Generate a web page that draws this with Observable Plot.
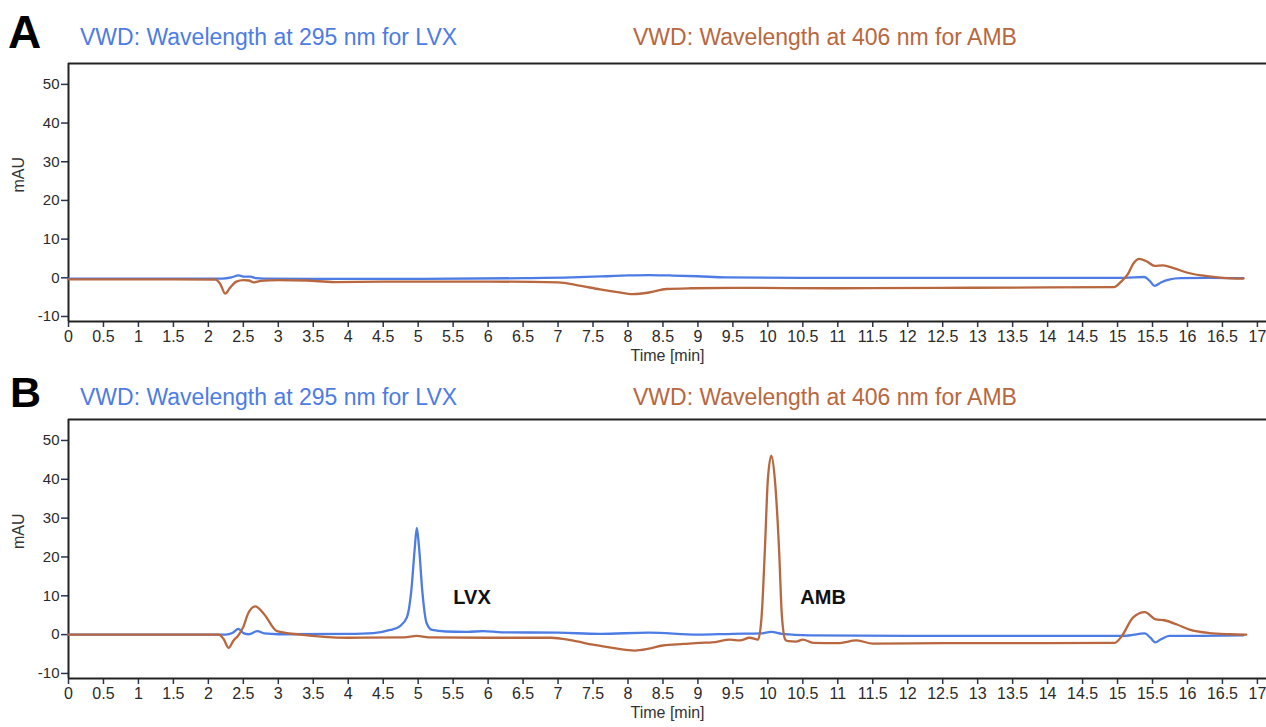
<!DOCTYPE html>
<html><head><meta charset="utf-8">
<script src="https://cdn.jsdelivr.net/npm/d3@7"></script>
<script src="https://cdn.jsdelivr.net/npm/@observablehq/plot@0.6"></script>
<style>
body{margin:0;background:#fff;font-family:"Liberation Sans",Arial,sans-serif;}
#wrap{position:relative;width:1266px;height:727px;overflow:hidden;background:#fff}
.panel{position:absolute;left:0;width:1266px}
.letter{position:absolute;font-weight:bold;color:#000;line-height:1;font-family:"Liberation Sans",Arial,sans-serif}
.ttl{position:absolute;font-size:23px;line-height:1;white-space:nowrap;font-family:"Liberation Sans",Arial,sans-serif}
</style></head><body><div id="wrap"></div>
<script>
// ---- data (time in min, absorbance in mAU) ----
const seriesNames = ["VWD: Wavelength at 295 nm for LVX", "VWD: Wavelength at 406 nm for AMB"];
const panelLetters = ["A", "B"];
const yTicks = [-10, 0, 10, 20, 30, 40, 50];
const xTicks = d3.range(0, 17.001, 0.5);

const A_LVX_t = [0,1.5,2.2,2.33,2.43,2.52,2.6,2.68,2.8,3.5,4.7,6.5,7.2,7.7,8.0,8.3,8.6,9.0,9.4,10.5,12.5,14.5,15.1,15.38,15.46,15.53,15.62,15.75,15.9,16.3,16.8];
const A_LVX_v = [-0.2,-0.2,-0.2,0.1,0.6,0.3,0.3,-0.1,-0.2,-0.3,-0.3,-0.1,0.1,0.4,0.6,0.7,0.6,0.4,0.1,0.0,0,0,0,0.2,-0.8,-2.1,-1.2,-0.4,-0.1,0,-0.1];

const A_AMB_t = [0,1.5,2.1,2.17,2.24,2.31,2.4,2.5,2.58,2.65,2.75,3.0,3.4,3.8,4.5,6.0,7.0,7.3,7.6,7.85,8.07,8.3,8.55,8.9,9.5,11,12.5,14,14.95,15.05,15.15,15.22,15.31,15.42,15.53,15.65,15.8,16.0,16.2,16.5,16.8];
const A_AMB_v = [-0.4,-0.4,-0.5,-1.6,-4.1,-2.6,-1.0,-0.6,-0.7,-1.2,-0.8,-0.6,-0.7,-1.1,-1.0,-1.0,-1.2,-2.0,-3.0,-3.7,-4.2,-3.8,-2.9,-2.7,-2.6,-2.7,-2.6,-2.5,-2.4,-1.0,1.0,3.5,4.9,4.2,3.1,3.2,2.5,1.3,0.6,0.0,-0.2];

const B_LVX_t = [0,1.5,2.25,2.35,2.43,2.5,2.58,2.7,2.8,3.0,4.0,4.36,4.6,4.74,4.84,4.9,4.95,4.98,5.01,5.06,5.12,5.2,5.4,5.7,5.93,6.2,7.0,7.6,8.3,9.0,9.5,9.9,10.05,10.2,10.6,12,14,15.1,15.39,15.47,15.54,15.62,15.74,16.2,16.8];
const B_LVX_v = [0,0,0,0.5,1.5,0.4,0.1,0.9,0.3,0.1,0.2,0.4,1.2,2.2,4.5,11,22,27.5,23,11,3,1.2,0.8,0.7,0.9,0.6,0.5,0.2,0.5,0,0.2,0.3,0.7,0.2,-0.2,-0.3,-0.3,-0.3,0.3,-0.8,-2.0,-1.2,-0.3,-0.3,-0.2];

const B_AMB_t = [0,1.5,2.15,2.22,2.29,2.36,2.42,2.5,2.57,2.67,2.8,2.98,3.31,4.0,4.8,4.98,5.15,6.0,6.9,7.2,7.5,7.8,8.1,8.3,8.5,8.8,9.03,9.2,9.46,9.6,9.74,9.86,9.91,9.96,10.0,10.05,10.1,10.16,10.2,10.25,10.29,10.4,10.5,10.65,11.0,11.27,11.5,12.5,14.0,14.96,15.06,15.22,15.39,15.55,15.67,15.85,16.03,16.31,16.6,16.84];
const B_AMB_v = [0,0,0,-1.2,-3.4,-1.5,-0.4,2.0,5.5,7.3,5.2,0.9,0,-0.8,-0.7,-0.3,-0.7,-0.8,-0.8,-1.5,-2.6,-3.5,-4.1,-3.6,-2.8,-2.4,-2.1,-2.0,-1.3,-1.5,-0.8,-1.3,4.5,23,40,46.1,40,22,5,-1.3,-1.7,-1.8,-1.3,-2.1,-2.2,-1.5,-2.3,-2.2,-2.2,-2.1,-0.4,4.4,5.8,3.9,3.7,2.6,1.3,0.4,0.1,0];

// peak annotations in panel B (data units)
const peakNames = ["LVX", "AMB"];
const peakLabelT = [5.77, 10.79];
const peakLabelV = [9.5, 9.5];

// ---- styling ----
const BLUE = "#4d7ce4";
const BROWN = "#b8673f";
const FONT = "Liberation Sans, Arial, sans-serif";
const X_DOMAIN = [0, 17.13];
const Y_DOMAIN = [-11.3, 55.4];

const zip = (t, v) => t.map((d, i) => ({t: d, v: v[i]}));

function makePanel(lvx, amb, labels, height, marginTop, marginBottom) {
  const marks = [
    Plot.ruleY([Y_DOMAIN[1]], {stroke: "#222", strokeWidth: 2}),
    Plot.ruleY([Y_DOMAIN[0]], {stroke: "#222", strokeWidth: 2}),
    Plot.ruleX([X_DOMAIN[0]], {stroke: "#222", strokeWidth: 2}),
    Plot.line(lvx, {x: "t", y: "v", stroke: BLUE, strokeWidth: 2.3, curve: "monotone-x"}),
    Plot.line(amb, {x: "t", y: "v", stroke: BROWN, strokeWidth: 2.3, curve: "monotone-x"}),
    Plot.text(["Time [min]"], {frameAnchor: "bottom", dy: 39, fontSize: 16, fill: "#333"}),
    Plot.text(["mAU"], {frameAnchor: "left", dx: -50, rotate: -90, fontSize: 16, fill: "#333"})
  ];
  if (labels) {
    marks.push(Plot.text(labels, {x: "t", y: "v", text: "name", fontSize: 20, fontWeight: "bold", fill: "#111"}));
  }
  const svg = Plot.plot({
    width: 1266,
    height,
    marginTop,
    marginBottom,
    marginLeft: 68,
    marginRight: 0,
    style: {fontFamily: FONT, fontSize: "15px", color: "#2a2a2a", background: "transparent", overflow: "visible"},
    x: {domain: X_DOMAIN, ticks: xTicks, tickFormat: d => String(d), tickSize: 6, tickPadding: 3, label: null},
    y: {domain: Y_DOMAIN, ticks: yTicks, tickFormat: d => String(d), tickSize: 7, tickPadding: 2, label: null},
    marks
  });
  return svg;
}

const wrap = document.getElementById("wrap");

function addText(cls, txt, left, top, extra) {
  const d = document.createElement("div");
  d.className = cls;
  d.textContent = txt;
  d.style.left = left + "px";
  d.style.top = top + "px";
  Object.assign(d.style, extra || {});
  wrap.appendChild(d);
}

// Panel A
const svgA = makePanel(zip(A_LVX_t, A_LVX_v), zip(A_AMB_t, A_AMB_v), null, 370, 63, 49);
const divA = document.createElement("div");
divA.className = "panel"; divA.style.top = "0px";
divA.appendChild(svgA);
wrap.appendChild(divA);

// Panel B
const labelsB = peakNames.map((n, i) => ({name: n, t: peakLabelT[i], v: peakLabelV[i]}));
const svgB = makePanel(zip(B_LVX_t, B_LVX_v), zip(B_AMB_t, B_AMB_v), labelsB, 357, 49, 49);
const divB = document.createElement("div");
divB.className = "panel"; divB.style.top = "370px";
divB.appendChild(svgB);
wrap.appendChild(divB);

// Headers
addText("letter", panelLetters[0], 8, 9, {fontSize: "46px"});
addText("ttl", seriesNames[0], 80, 25.5, {color: BLUE});
addText("ttl", seriesNames[1], 633, 25.5, {color: BROWN});
addText("letter", panelLetters[1], 10, 371, {fontSize: "43px"});
addText("ttl", seriesNames[0], 80, 385.5, {color: BLUE});
addText("ttl", seriesNames[1], 633, 385.5, {color: BROWN});

// tick label sizes
for (const s of [svgA, svgB]) {
  d3.select(s).selectAll('[aria-label="x-axis tick label"]').attr("font-size", 16);
  d3.select(s).selectAll('[aria-label="y-axis tick label"]').attr("font-size", 15);
  d3.select(s).selectAll('[aria-label="x-axis tick"], [aria-label="y-axis tick"]').attr("stroke", "#2a3550").attr("stroke-width", 1.5);
}
</script>
</body></html>
